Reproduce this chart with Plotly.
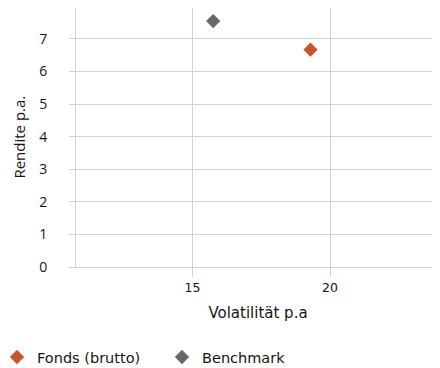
import plotly.graph_objects as go

series_names = ["Fonds (brutto)", "Benchmark"]
volatility = [19.29, 15.75]
returns = [6.67, 7.55]
colors = ["#C8552A", "#686868"]

sans_a = "DejaVu Sans"
sans_b = "Open Sans"
text_color = "#141414"
grid = "#d2d2d2"

fig = go.Figure()
for name, x, y, c in zip(series_names, volatility, returns, colors):
    fig.add_trace(go.Scatter(
        x=[x], y=[y], mode="markers", name=name,
        marker=dict(symbol="diamond", size=11, color=c),
    ))

fig.update_layout(
    width=432, height=360,
    margin=dict(l=68, r=0, t=0, b=101, autoexpand=False),
    paper_bgcolor="white", plot_bgcolor="white",
    font=dict(family=sans_a, size=13, color=text_color),
    showlegend=True,
    legend=dict(orientation="h", x=-0.217, y=-0.286, xanchor="left", yanchor="top",
                font=dict(family=sans_a, size=14.5, color=text_color),
                itemwidth=30, entrywidth=120, entrywidthmode="pixels"),
    xaxis=dict(range=[10.76, 24.0], tickvals=[15, 20], showgrid=True, automargin=False,
               gridcolor=grid, gridwidth=1, showline=True, linecolor=grid,
               ticks="outside", ticklen=9, tickcolor=grid, zeroline=False,
               tickfont=dict(family=sans_a, size=12.5, color=text_color),
               title=dict(text="Volatilität p.a", standoff=13,
                          font=dict(family=sans_a, size=15, color=text_color))),
    yaxis=dict(range=[0, 7.95], dtick=1, showgrid=True, gridcolor=grid, gridwidth=1,
               showline=True, linecolor=grid, ticks="outside", ticklen=6,
               tickcolor=grid, zeroline=False, automargin=False, ticklabelstandoff=19,
               tickfont=dict(family=sans_b, size=14, color=text_color)),
    annotations=[dict(text="Rendite p.a.", textangle=-90, xref="paper", yref="paper",
                      x=-0.159, y=0.5, xanchor="center", yanchor="middle",
                      showarrow=False, font=dict(family=sans_b, size=15, color=text_color))],
)

fig.write_html("out.html")
